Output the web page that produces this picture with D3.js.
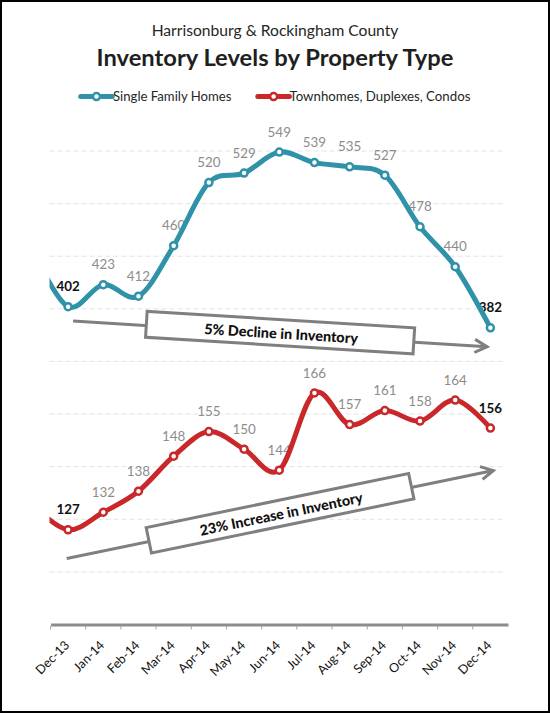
<!DOCTYPE html>
<html>
<head>
<meta charset="utf-8">
<script src="https://cdn.jsdelivr.net/npm/d3@7/dist/d3.min.js"></script>
<style>
  html, body { margin: 0; padding: 0; background: #fff; }
  svg { display: block; }
</style>
</head>
<body>
<svg id="chart" width="550" height="713"></svg>
<script>
// ---------------- data ----------------
const months = ["Dec-13","Jan-14","Feb-14","Mar-14","Apr-14","May-14","Jun-14",
                "Jul-14","Aug-14","Sep-14","Oct-14","Nov-14","Dec-14"];
const singleFamily = [402, 423, 412, 460, 520, 529, 549, 539, 535, 527, 478, 440, 382];
const townhomes    = [127, 132, 138, 148, 155, 150, 144, 166, 157, 161, 158, 164, 156];
// previous month (clipped off at the left edge of the plot)
const leadInMonth = "Nov-13";
const singleFamilyLeadIn = 455;
const townhomesLeadIn = 134;
// value axes (hidden) : gridlines follow the single-family axis
const singleFamilyTicks = [100, 150, 200, 250, 300, 350, 400, 450, 500, 550];
const townhomesDomain = [100, 235];
const seriesNames = ["Single Family Homes", "Townhomes, Duplexes, Condos"];
const subtitle = "Harrisonburg & Rockingham County";
const title = "Inventory Levels by Property Type";
const notes = ["5% Decline in Inventory", "23% Increase in Inventory"];

// ---------------- setup ----------------
const W = 550, H = 713;
const teal = "#2f92a8", red = "#c9282b", arrowGray = "#7f7f7f";
const FONT = "Lato, 'Open Sans', sans-serif";
const svg = d3.select("#chart");

const plotLeft = 50.5, plotRight = 508, plotTop = 151, plotBottom = 624.5;

const x = d3.scaleBand().domain(months).range([plotLeft, plotRight]);
const xc = m => x(m) + x.bandwidth() / 2;
const xLead = xc(months[0]) - x.step();

const yTop = d3.scaleLinear()
  .domain([singleFamilyTicks[0], singleFamilyTicks[singleFamilyTicks.length - 1]])
  .range([plotBottom, plotTop]);
const yBot = d3.scaleLinear().domain(townhomesDomain).range([plotBottom, plotTop]);

function fit(sel, target) {
  const w = sel.node().getComputedTextLength();
  const fs = parseFloat(sel.attr("font-size"));
  sel.attr("font-size", (fs * target / w).toFixed(2));
  return sel;
}

// border
svg.append("rect").attr("x", 1).attr("y", 1).attr("width", W - 2).attr("height", H - 2)
  .attr("fill", "#fff").attr("stroke", "#000").attr("stroke-width", 2);

// titles
fit(svg.append("text").attr("x", 275).attr("y", 35.5).attr("text-anchor", "middle")
  .attr("font-family", FONT).attr("font-size", 15).attr("fill", "#262626").text(subtitle), 247);
fit(svg.append("text").attr("x", 275).attr("y", 65.5).attr("text-anchor", "middle")
  .attr("font-family", FONT).attr("font-weight", "bold").attr("font-size", 21)
  .attr("fill", "#1f1f1f").text(title), 357);

// legend
const legendSpec = [
  {name: seriesNames[0], color: teal, x0: 80.7, x1: 112.2, tx: 113, w: 118.5},
  {name: seriesNames[1], color: red, x0: 257.8, x1: 289.4, tx: 289.5, w: 181}
];
const legendY = 96.6;
legendSpec.forEach(l => {
  svg.append("line").attr("x1", l.x0).attr("x2", l.x1).attr("y1", legendY).attr("y2", legendY)
    .attr("stroke", l.color).attr("stroke-width", 5).attr("stroke-linecap", "round");
  svg.append("circle").attr("cx", (l.x0 + l.x1) / 2).attr("cy", legendY).attr("r", 3.5)
    .attr("fill", "#fff").attr("stroke", l.color).attr("stroke-width", 2.5);
  fit(svg.append("text").attr("x", l.tx).attr("y", legendY).attr("dy", "0.35em")
    .attr("font-family", FONT).attr("font-size", 13).attr("fill", "#262626").text(l.name), l.w);
});

// gridlines
svg.append("g").selectAll("line")
  .data(singleFamilyTicks.slice(1))
  .join("line")
  .attr("x1", 49.5).attr("x2", 505.5)
  .attr("y1", d => yTop(d)).attr("y2", d => yTop(d))
  .attr("stroke", "#e3e3e3").attr("stroke-width", 1).attr("stroke-dasharray", "5,3");

// x axis
const axis = svg.append("g").attr("transform", `translate(0,${plotBottom})`)
  .call(d3.axisBottom(x).tickSize(0).tickPadding(0));
axis.select(".domain").attr("stroke", "#8c8c8c").attr("stroke-width", 3);
axis.selectAll(".tick text")
  .attr("x", 0).attr("y", 0).attr("dy", 0)
  .attr("text-anchor", "end")
  .attr("transform", "translate(2,21.5) rotate(-45)")
  .attr("font-family", FONT).attr("font-size", 12.6).attr("fill", "#111");
svg.append("g").selectAll("line")
  .data(months)
  .join("line")
  .attr("x1", d => x(d)).attr("x2", d => x(d))
  .attr("y1", plotBottom + 1.5).attr("y2", plotBottom + 5)
  .attr("stroke", "#a6a6a6").attr("stroke-width", 1);

// annotations (arrows with boxed text)
function arrowNote(p0, p1, label, textW) {
  const g = svg.append("g");
  const dx = p1[0] - p0[0], dy = p1[1] - p0[1];
  const ang = Math.atan2(dy, dx);
  const back = ang + Math.PI, spread = 28 * Math.PI / 180, L = 14;
  const a1 = [p1[0] + L * Math.cos(back - spread), p1[1] + L * Math.sin(back - spread)];
  const a2 = [p1[0] + L * Math.cos(back + spread), p1[1] + L * Math.sin(back + spread)];
  g.append("path")
    .attr("d", `M${p0}L${p1}M${a1}L${p1}L${a2}`)
    .attr("fill", "none").attr("stroke", arrowGray).attr("stroke-width", 3)
    .attr("stroke-linejoin", "miter");
  const mx = (p0[0] + p1[0]) / 2, my = (p0[1] + p1[1]) / 2;
  const deg = ang * 180 / Math.PI;
  const bg = g.append("g").attr("transform", `translate(${mx},${my - 1.3}) rotate(${deg})`);
  bg.append("rect").attr("x", -134).attr("y", -13).attr("width", 268).attr("height", 26)
    .attr("fill", "#fff").attr("stroke", arrowGray).attr("stroke-width", 3);
  fit(bg.append("text").attr("x", 1).attr("y", 1).attr("dy", "0.35em").attr("text-anchor", "middle")
    .attr("font-family", FONT).attr("font-weight", "900").attr("font-size", 14)
    .attr("fill", "#111").text(label), textW);
}
arrowNote([xc(months[0]) + 5, yTop(388.4)], [xc(months[12]) - 3.3, yTop(364)], notes[0], 154);
arrowNote([xc(months[0]) - 1.4, yBot(118.8)], [xc(months[12]) + 3, yBot(143.9)], notes[1], 166);

// series
const series = [
  {values: singleFamily, lead: singleFamilyLeadIn, y: yTop, color: teal},
  {values: townhomes, lead: townhomesLeadIn, y: yBot, color: red}
];

svg.append("defs").append("clipPath").attr("id", "plotClip")
  .append("rect").attr("x", 49.5).attr("y", 0).attr("width", W - 49.5).attr("height", H);

// data labels (drawn under lines)
series.forEach(s => {
  svg.append("g").selectAll("text")
    .data(s.values)
    .join("text")
    .attr("x", (d, i) => xc(months[i]))
    .attr("y", d => s.y(d) - 15.5)
    .attr("text-anchor", "middle")
    .attr("font-family", FONT)
    .attr("font-size", 13.4)
    .attr("font-weight", (d, i) => (i === 0 || i === months.length - 1) ? "bold" : "normal")
    .attr("fill", (d, i) => (i === 0 || i === months.length - 1) ? "#111" : "#8c8c8c")
    .text(d => d);
});

const line = d3.line().curve(d3.curveCatmullRom.alpha(0));
series.forEach(s => {
  const pts = [[xLead, s.y(s.lead)]].concat(s.values.map((v, i) => [xc(months[i]), s.y(v)]));
  svg.append("path").attr("d", line(pts)).attr("clip-path", "url(#plotClip)")
    .attr("fill", "none").attr("stroke", s.color).attr("stroke-width", 5)
    .attr("stroke-linejoin", "round").attr("stroke-linecap", "round");
});
series.forEach(s => {
  svg.append("g").selectAll("circle")
    .data(s.values)
    .join("circle")
    .attr("cx", (d, i) => xc(months[i]))
    .attr("cy", d => s.y(d))
    .attr("r", 3.5)
    .attr("fill", "#fff").attr("stroke", s.color).attr("stroke-width", 2.5);
});
</script>
</body>
</html>
